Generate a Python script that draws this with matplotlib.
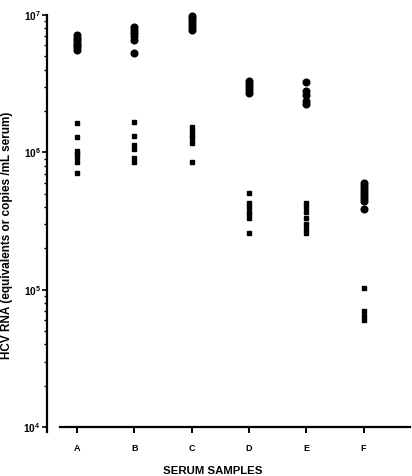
import matplotlib
matplotlib.use("Agg")
import matplotlib.pyplot as plt
import matplotlib.ticker as mticker
import numpy as np

plt.rcParams["font.family"] = ["Liberation Sans", "DejaVu Sans"]
plt.rcParams["font.weight"] = "bold"
plt.rcParams["mathtext.fontset"] = "custom"
plt.rcParams["mathtext.rm"] = "Liberation Sans:bold"
plt.rcParams["mathtext.bf"] = "Liberation Sans:bold"

samples = ["A", "B", "C", "D", "E", "F"]

# upper group (large dots)
dots_A = [7.1e6, 6.8e6, 6.55e6, 6.3e6, 6.05e6, 5.8e6, 5.6e6]
dots_B = [8.2e6, 7.8e6, 7.4e6, 7.0e6, 6.6e6, 5.3e6]
dots_C = [9.8e6, 9.5e6, 9.0e6, 8.6e6, 8.2e6, 7.8e6]
dots_D = [3.3e6, 3.15e6, 3.0e6, 2.85e6, 2.7e6]
dots_E = [3.25e6, 2.8e6, 2.62e6, 2.36e6, 2.25e6]
dots_F = [6.0e5, 5.7e5, 5.4e5, 5.15e5, 4.9e5, 4.65e5, 4.4e5, 3.87e5]

# lower group (small squares)
sq_A = [1.64e6, 1.29e6, 1.02e6, 9.7e5, 9.2e5, 8.5e5, 7.1e5]
sq_B = [1.66e6, 1.31e6, 1.13e6, 1.06e6, 9.1e5, 8.5e5]
sq_C = [1.53e6, 1.43e6, 1.34e6, 1.27e6, 1.17e6, 8.5e5]
sq_D = [5.1e5, 4.3e5, 4.0e5, 3.7e5, 3.55e5, 3.3e5, 2.6e5]
sq_E = [4.3e5, 4.0e5, 3.7e5, 3.3e5, 3.0e5, 2.75e5, 2.6e5]
sq_F = [1.03e5, 7.0e4, 6.4e4, 6.0e4]

dots = [dots_A, dots_B, dots_C, dots_D, dots_E, dots_F]
squares = [sq_A, sq_B, sq_C, sq_D, sq_E, sq_F]

fig = plt.figure(figsize=(4.12, 4.76), dpi=100)
ax = fig.add_axes([47 / 412, 1 - 432 / 476, (410 - 47) / 412, (432 - 15) / 476])

for i, (d, s) in enumerate(zip(dots, squares)):
    x = i + 1
    ax.plot([x] * len(d), d, "o", color="black", markersize=4.8, clip_on=False)
    ax.plot([x] * len(s), s, "s", color="black", markersize=2.2, clip_on=False)

ax.set_yscale("log")
ax.set_ylim(10 ** 3.964, 1e7)
ax.set_xlim(0.476, 6.81)

for sp in ["top", "right"]:
    ax.spines[sp].set_visible(False)
ax.spines["left"].set_linewidth(1.6)
ax.spines["bottom"].set_linewidth(1.6)
ax.spines["bottom"].set_position(("data", 1e4))
ax.spines["bottom"].set_bounds(0.7, 6.81)

ax.set_xticks(range(1, 7))
ax.set_xticklabels(samples, fontsize=6.5, fontweight="bold")
ax.tick_params(axis="x", direction="out", length=4.5, width=1.4, pad=8)

ax.yaxis.set_major_locator(mticker.FixedLocator([1e4, 1e5, 1e6, 1e7]))
ax.yaxis.set_major_formatter(mticker.FixedFormatter(
    [r"$10^{4}$", r"$10^{5}$", r"$10^{6}$", r"$10^{7}$"]))
ax.yaxis.set_minor_locator(mticker.LogLocator(base=10, subs=np.arange(2, 10)))
ax.yaxis.set_minor_formatter(mticker.NullFormatter())
ax.tick_params(axis="y", which="major", direction="out", length=3.5, width=1.2,
               pad=1, labelsize=7.3)
ax.tick_params(axis="y", which="minor", direction="out", length=2.2, width=1.0)

fig.text(213 / 412, 1 - 471 / 476, "SERUM SAMPLES", ha="center", va="center",
         fontsize=8.2, fontweight="bold")
fig.text(7 / 412, 1 - 235 / 476, "HCV RNA (equivalents or copies /mL serum)",
         ha="center", va="center", rotation=90, fontsize=8.5, fontweight="bold")

fig.savefig("out.png", dpi=100, facecolor="white")
